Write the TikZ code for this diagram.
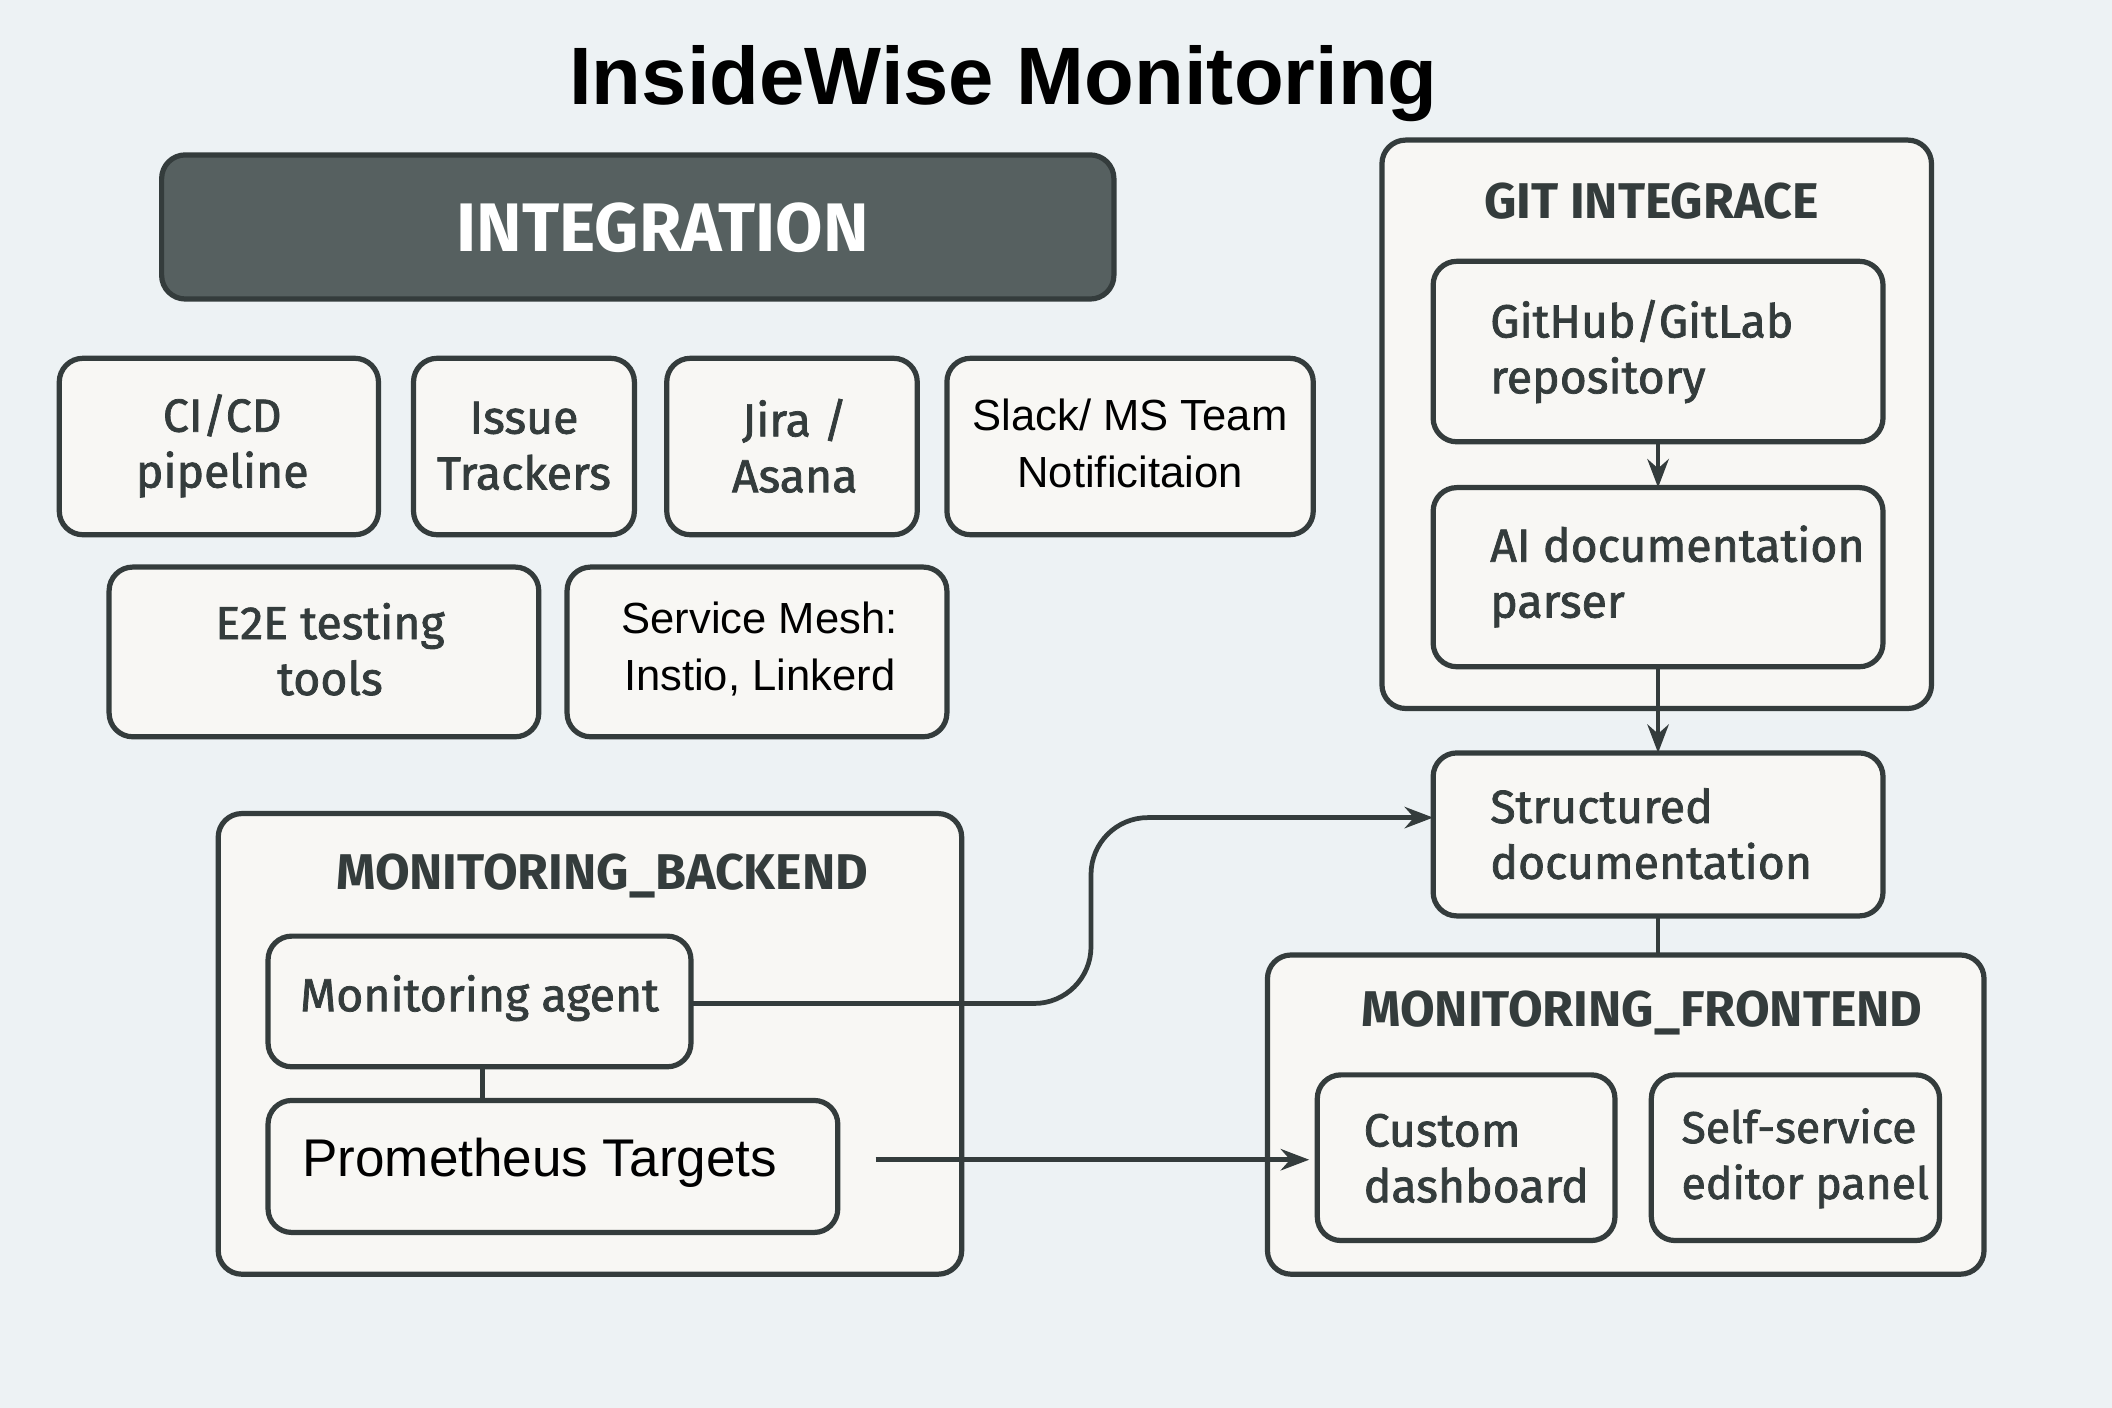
\documentclass[tikz,border=0pt]{standalone}
\usepackage{fontspec}
\setmainfont{Fira Sans}
\newfontfamily\med{Fira Sans}[FakeBold=1.6]
\newfontfamily\arial{Liberation Sans}
\usetikzlibrary{arrows.meta}
\definecolor{bg}{HTML}{EDF2F4}
\definecolor{bx}{HTML}{F8F7F4}
\definecolor{ln}{HTML}{343C3C}
\definecolor{dk}{HTML}{566060}
\begin{document}
\begin{tikzpicture}[x=0.01cm,y=-0.01cm,
  box/.style={draw=ln,line width=1.1pt,fill=bx,rounded corners=5pt},
  t/.style={font=\med\fontsize{9.8}{11.8}\selectfont,text=ln,align=center},
  tl/.style={font=\med\fontsize{9.8}{11.8}\selectfont,text=ln,align=left,anchor=west},
  ta/.style={font=\arial\fontsize{9.2}{12}\selectfont,text=black,align=center},
  hd/.style={font=\fontsize{10.6}{13}\selectfont\bfseries,text=ln},
  ar/.style={draw=ln,line width=1pt,-{Stealth[length=6pt]}},
  ln/.style={draw=ln,line width=1pt}]
\fill[bg] (0,0) rectangle (1568,1045);
\useasboundingbox (0,0) rectangle (1568,1045);
\node[font=\arial\fontsize{17.2}{20}\selectfont\bfseries] (title) at (745,62) {InsideWise Monitoring};
% integration
\draw[box,fill=dk] (120,115) rectangle (827,222);
\node[font=\fontsize{14.5}{18}\selectfont\bfseries,text=white] (integ) at (492,169) {INTEGRATION};
\draw[box] (44,266) rectangle (281,397); \node[t] (cicd) at (165,331) {CI/CD\\pipeline};
\draw[box] (307,266) rectangle (471,397); \node[t] (issue) at (389,331) {Issue\\Trackers};
\draw[box] (495,266) rectangle (681,397); \node[t] (jira) at (590,331) {Jira /\\Asana};
\draw[box] (703,266) rectangle (975,397); \node[ta] (slack) at (839,329) {Slack/ MS Team\\Notificitaion};
\draw[box] (81,421) rectangle (400,547); \node[t] (e2e) at (245,482) {E2E testing\\tools};
\draw[box] (421,421) rectangle (703,547); \node[ta] (mesh) at (564,482) {Service Mesh:\\Instio, Linkerd};
% git
\draw[box] (1026,104) rectangle (1434,526);
\node[hd] (git) at (1226,149) {GIT INTEGRACE};
\draw[box] (1064,194) rectangle (1398,328); \node[tl] (gh) at (1094,261) {GitHub/GitLab\\repository};
\draw[box] (1064,362) rectangle (1398,495); \node[tl] (ai) at (1094,428) {AI documentation\\parser};
\draw[box] (1064,559) rectangle (1398,680); \node[tl] (sd) at (1094,619) {Structured\\documentation};
% frontend
\draw[box] (941,709) rectangle (1473,946);
\node[hd] (fe) at (1219,752) {MONITORING\_FRONTEND};
\draw[box] (978,798) rectangle (1199,921); \node[tl] (cd) at (1000,860) {Custom\\dashboard};
\draw[box] (1226,798) rectangle (1440,921); \node[tl,font=\med\fontsize{9.4}{11.8}\selectfont] (ss) at (1236,860) {Self-service\\editor panel};
% backend
\draw[box] (162,604) rectangle (714,946);
\node[hd] (be) at (447,650) {MONITORING\_BACKEND};
\draw[box] (199,695) rectangle (513,792); \node[t] (ma) at (356,741) {Monitoring agent};
\draw[box] (199,817) rectangle (622,915); \node[font=\arial\fontsize{11.2}{14}\selectfont,anchor=west] (pt) at (212,863) {Prometheus Targets};
% connectors
\draw[ar] (1231,328) -- (1231,362);
\draw[ar] (1231,495) -- (1231,559);
\draw[ln] (1231,680) -- (1231,709);
\draw[ln] (358,792) -- (358,817);
\draw[ar,rounded corners=12pt] (513,745) -- (810,745) -- (810,607) -- (1064,607);
\coordinate (ps) at (650,861);
\draw[ar] (ps) -- (972,861);
\end{tikzpicture}
\end{document}
